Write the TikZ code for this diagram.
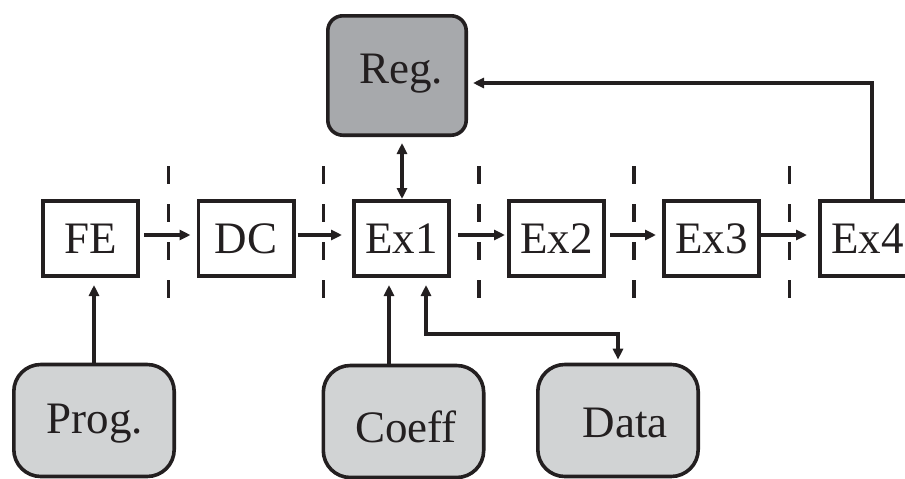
\documentclass[tikz,border=0pt]{standalone}
\usepackage{fontspec}
\setmainfont{Liberation Serif}
\usetikzlibrary{arrows.meta,calc}
\definecolor{ink}{HTML}{231F20}
\definecolor{regfill}{HTML}{A7A9AC}
\definecolor{memfill}{HTML}{D1D3D4}

\begin{document}
\begin{tikzpicture}[x=1pt,y=-1pt,
  font=\fontsize{45}{50}\selectfont,
  stage/.style={draw=ink, line width=3.6pt, minimum width=95.4pt, minimum height=75.4pt,
    inner sep=0pt, fill=white, text=ink},
  regbox/.style={draw=ink, line width=3.6pt, fill=regfill, rounded corners=15pt,
    minimum width=138.4pt, minimum height=119.4pt, inner sep=0pt},
  membox/.style={draw=ink, line width=3.6pt, fill=memfill, rounded corners=27pt,
    minimum width=160.4pt, minimum height=112pt, inner sep=0pt},
  flow/.style={draw=ink, line width=3.2pt, -{Triangle[length=11pt,width=10pt]}},
  flowboth/.style={draw=ink, line width=3.2pt,
    {Triangle[length=11pt,width=10pt]}-{Triangle[length=11pt,width=10pt]}},
  sep/.style={draw=ink, line width=3.6pt, dash pattern=on 18pt off 20pt},
  lbl/.style={text=ink, anchor=base, inner sep=0pt}
]
\useasboundingbox (0,0) rectangle (905,479);
\clip (0,0) rectangle (905,479);

% pipeline stage separators
\foreach \x in {168.5,323.5,479,634,789.5}
  \draw[sep] (\x,166) -- (\x,298);

% pipeline stages
\node[stage] (fe)  at (90.5,238.5)  {FE};
\node[stage] (dc)  at (246,238.5)   {DC};
\node[stage] (ex1) at (401.5,238.5) {Ex1};
\node[stage] (ex2) at (556.5,238.5) {Ex2};
\node[stage] (ex3) at (711.5,238.5) {Ex3};
\node[stage] (ex4) at (867.5,238.5) {Ex4};

% register file
\node[regbox] (reg) at (397,75.5) {};
\node[lbl] (regt) at (401,83) {Reg.};

% memories
\node[membox] (prog)  at (94,420.5)    {};
\node[membox] (coeff) at (403.5,421.5) {};
\node[membox] (data)  at (618,420.5)   {};
\node[lbl] (progt)  at (95,433)  {Prog.};
\node[lbl] (coefft) at (406,442) {Coeff};
\node[lbl] (datat)  at (625,437) {Data};

% stage to stage
\draw[flow, shorten <=4pt, shorten >=6pt]  ([yshift=3.5pt]fe.east)  -- ([yshift=3.5pt]dc.west);
\draw[flow, shorten <=2pt, shorten >=10pt] ([yshift=3.5pt]dc.east)  -- ([yshift=3.5pt]ex1.west);
\draw[flow, shorten <=7pt, shorten >=2pt]  ([yshift=3.5pt]ex1.east) -- ([yshift=3.5pt]ex2.west);
\draw[flow, shorten <=4pt, shorten >=6pt]  ([yshift=3.5pt]ex2.east) -- ([yshift=3.5pt]ex3.west);
\draw[flow, shorten <=0pt, shorten >=11pt] ([yshift=3.5pt]ex3.east) -- ([yshift=3.5pt]ex4.west);

% memory ports
\draw[flow, shorten >=7pt] (prog.north) -- (prog.north |- fe.south);
\draw[flow, shorten >=7pt] ([xshift=-12.5pt]ex1.south |- coeff.north) -- ([xshift=-12.5pt]ex1.south);
\draw[flowboth, shorten <=7pt, shorten >=3pt] ([xshift=24.5pt]ex1.south) -- ++(0,56) -| (data.north);

% register ports
\draw[flowboth, shorten <=6pt] ([xshift=0.5pt]ex1.north |- reg.south) -- ([xshift=0.5pt]ex1.north);
\draw[flow, shorten >=5pt] ([xshift=4.5pt]ex4.north) |- ([yshift=-7.5pt]reg.east);
\end{tikzpicture}
\end{document}
